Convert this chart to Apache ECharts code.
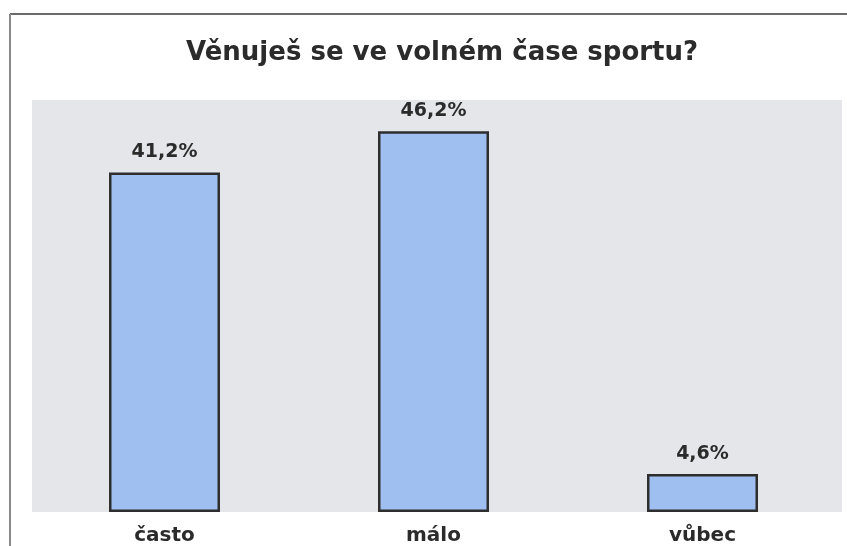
<!DOCTYPE html>
<html>
<head>
<meta charset="utf-8">
<script src="https://cdn.jsdelivr.net/npm/echarts@6/dist/echarts.min.js"></script>
<style>
  html, body { margin: 0; padding: 0; background: #ffffff; }
  #chart { width: 847px; height: 546px; }
</style>
</head>
<body>
<div id="chart"></div>
<script>
// Survey answers: how often do you do sport in your free time
const categories = ['často', 'málo', 'vůbec'];
const shares = [41.2, 46.2, 4.6];
const titleText = 'Věnuješ se ve volném čase sportu?';

const chart = echarts.init(document.getElementById('chart'));

const fontFamily = '"DejaVu Sans", "Liberation Sans", sans-serif';

chart.setOption({
  backgroundColor: '#ffffff',
  animation: false,
  title: {
    text: titleText,
    left: 181,
    top: 35,
    textStyle: {
      fontFamily: fontFamily,
      fontSize: 26,
      fontWeight: 'bold',
      color: '#2b2b2b'
    }
  },
  graphic: [
    // frame lines along the top and left edge
    { type: 'line', shape: { x1: 10, y1: 14, x2: 847, y2: 14 }, style: { stroke: '#6b6b6b', lineWidth: 2 }, z: 10 },
    { type: 'line', shape: { x1: 10, y1: 14, x2: 10, y2: 546 }, style: { stroke: '#8a8a8a', lineWidth: 2 }, z: 10 },
    // plot background panel
    { type: 'rect', shape: { x: 32, y: 100, width: 810, height: 412 }, style: { fill: '#e4e6e9' }, z: -10 }
  ],
  grid: {
    left: 30,
    right: 10,
    top: 100,
    bottom: 34
  },
  xAxis: {
    type: 'category',
    data: categories,
    axisLine: { show: false },
    axisTick: { show: false },
    axisLabel: {
      margin: 14,
      fontFamily: fontFamily,
      fontSize: 20,
      fontWeight: 'bold',
      color: '#2b2b2b'
    }
  },
  yAxis: {
    type: 'value',
    min: 0,
    max: 50,
    show: false,
    splitLine: { show: false }
  },
  series: [{
    type: 'bar',
    data: shares,
    barWidth: 111,
    itemStyle: {
      color: '#9ebff0',
      borderColor: '#2e2e2e',
      borderWidth: 2.5
    },
    label: {
      show: true,
      position: 'top',
      distance: 11,
      fontFamily: fontFamily,
      fontSize: 19,
      fontWeight: 'bold',
      color: '#2b2b2b',
      formatter: p => p.value.toFixed(1).replace('.', ',') + '%'
    }
  }]
});
</script>
</body>
</html>
